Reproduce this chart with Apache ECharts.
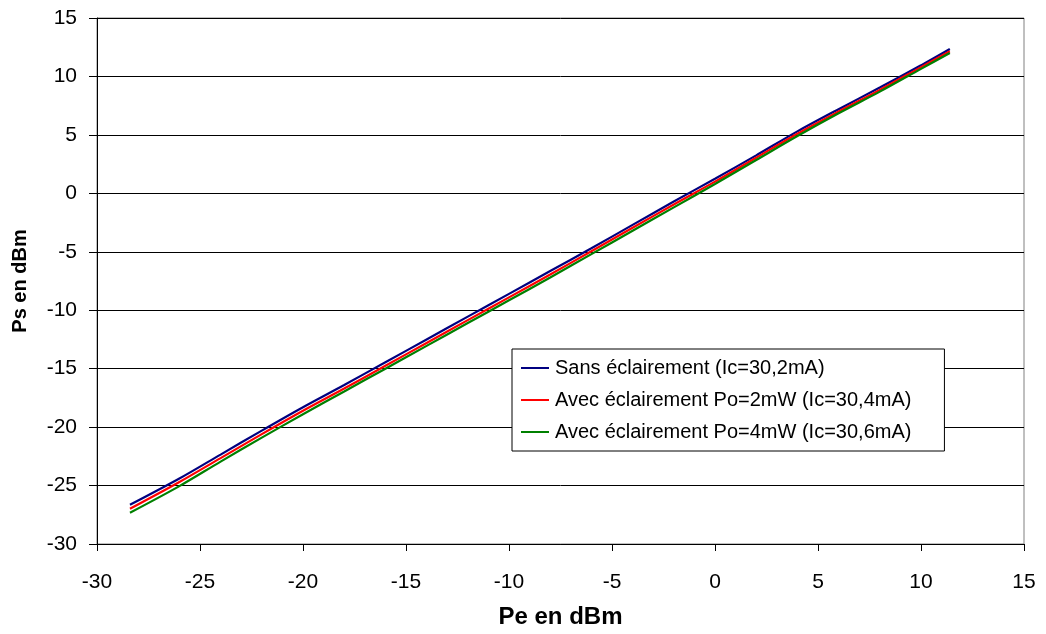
<!DOCTYPE html>
<html>
<head>
<meta charset="utf-8">
<script src="https://cdn.jsdelivr.net/npm/echarts@6/dist/echarts.min.js"></script>
<style>html,body{margin:0;padding:0;background:#fff}#c{width:1046px;height:634px}</style>
</head>
<body>
<div id="c"></div>
<script>
const peValues = [-28.4, -26, -24, -22, -20, -18, -16, -14, -12, -10, -8, -6, -4, -2, 0, 2, 4, 6, 8, 10, 11.4];
const sansEclairement = [-26.65, -24.4, -22.35, -20.3, -18.3, -16.4, -14.45, -12.5, -10.55, -8.6, -6.65, -4.7, -2.7, -0.7, 1.25, 3.25, 5.3, 7.2, 9.05, 10.95, 12.35];
const avecPo2mW = [-26.99, -24.7, -22.65, -20.6, -18.6, -16.7, -14.75, -12.8, -10.85, -8.9, -6.95, -4.95, -2.95, -0.95, 1.0, 3.05, 5.1, 7.0, 8.85, 10.8, 12.15];
const avecPo4mW = [-27.33, -25.05, -22.95, -20.9, -18.9, -16.95, -15.0, -13.05, -11.1, -9.15, -7.2, -5.2, -3.2, -1.2, 0.8, 2.85, 4.9, 6.85, 8.7, 10.65, 12.0];
const seriesNames = ['Sans éclairement (Ic=30,2mA)', 'Avec éclairement Po=2mW (Ic=30,4mA)', 'Avec éclairement Po=4mW (Ic=30,6mA)'];
const seriesColors = ['#000080', '#ff0000', '#008000'];
const xTitle = 'Pe en dBm';
const yTitle = 'Ps en dBm';

const font = '"Liberation Sans", Arial, sans-serif';
const pairs = arr => peValues.map((x, i) => [x, arr[i]]);
const allData = [sansEclairement, avecPo2mW, avecPo4mW];

const chart = echarts.init(document.getElementById('c'), null, {renderer: 'canvas'});
chart.setOption({
  animation: false,
  backgroundColor: '#fff',
  grid: {left: 97, right: 22, top: 18, bottom: 88, show: true, borderColor: '#808080', borderWidth: 1, backgroundColor: '#fff'},
  legend: {
    orient: 'vertical', left: 512, top: 349,
    padding: [9, 33, 9, 9], itemGap: 12, itemWidth: 28, itemHeight: 2, icon: 'rect',
    borderColor: '#000', borderWidth: 1, backgroundColor: '#fff', borderRadius: 0,
    textStyle: {fontFamily: font, fontSize: 20, color: '#000', lineHeight: 20, padding: [0, 0, 0, 1]},
    data: seriesNames
  },
  xAxis: {
    type: 'value', min: -30, max: 15, interval: 5,
    name: xTitle, nameLocation: 'middle', nameGap: 61,
    nameTextStyle: {fontFamily: font, fontSize: 24, fontWeight: 'bold', color: '#000'},
    axisLine: {show: true, onZero: false, lineStyle: {color: '#000', width: 1}},
    axisTick: {show: true, inside: false, length: 7, lineStyle: {color: '#000'}},
    axisLabel: {fontFamily: font, fontSize: 21, color: '#000', margin: 28},
    splitLine: {show: false}
  },
  yAxis: {
    type: 'value', min: -30, max: 15, interval: 5,
    name: yTitle, nameLocation: 'middle', nameGap: 67,
    nameTextStyle: {fontFamily: font, fontSize: 20, fontWeight: 'bold', color: '#000'},
    axisLine: {show: true, onZero: false, lineStyle: {color: '#000', width: 1}},
    axisTick: {show: true, inside: false, length: 8, lineStyle: {color: '#000'}},
    axisLabel: {fontFamily: font, fontSize: 21, color: '#000', margin: 20},
    splitLine: {show: true, lineStyle: {color: '#000', width: 1}}
  },
  series: seriesNames.map((n, i) => ({
    name: n, type: 'line', data: pairs(allData[i]),
    showSymbol: false, symbol: 'none', smooth: 0.3,
    lineStyle: {color: seriesColors[i], width: 2.2},
    itemStyle: {color: seriesColors[i]}
  }))
});
</script>
</body>
</html>
